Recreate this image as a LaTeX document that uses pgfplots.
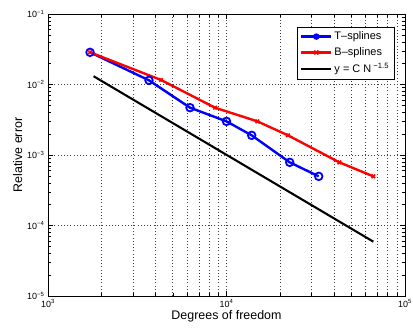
\documentclass[border=0pt]{standalone}
\usepackage{fontspec}
\setmainfont{Liberation Sans}
\usepackage{pgfplots}
\pgfplotsset{compat=1.18}
\begin{document}
\begin{tikzpicture}
\begin{axis}[
  name=ax,
  xmode=log, ymode=log,
  scale only axis, width=357bp, height=282bp,
  xmin=1e3, xmax=1e5, ymin=1e-5, ymax=1e-1,
  xtick={1e3,1e4,1e5},
  xticklabels={10\textsuperscript{3},10\textsuperscript{4},10\textsuperscript{5}},
  ytick={1e-5,1e-4,1e-3,1e-2,1e-1},
  yticklabels={10\textsuperscript{−5},10\textsuperscript{−4},10\textsuperscript{−3},10\textsuperscript{−2},10\textsuperscript{−1}},
  tick label style={font=\fontsize{9}{10}\selectfont},
  label style={font=\fontsize{12.5}{14}\selectfont},
  xlabel={Degrees of freedom},
  ylabel={Relative error},
  xlabel style={yshift=4bp},
  ylabel style={yshift=-2bp},
  tick align=inside,
  major tick length=5bp, minor tick length=3bp,
  xmajorgrids, xminorgrids, ymajorgrids,
  major grid style={dash pattern=on 0.8bp off 2.4bp, black!75, line width=0.6pt},
  minor grid style={dash pattern=on 0.8bp off 2.4bp, black!75, line width=0.6pt},
  axis line style={line width=0.6pt},
  every tick/.style={black, line width=0.5pt},
  legend style={font=\fontsize{11}{13}\selectfont, at={(0.97,0.955)}, anchor=north east,
    draw=black, row sep=2.5bp, inner xsep=3bp, inner ysep=3bp},
  legend cell align=left,
]
\addplot[blue, line width=2.4pt, mark=o, mark size=3.8bp, mark options={line width=1.8pt},
  legend image code/.code={\draw[blue, line width=2.4pt] (0bp,0bp) -- (30bp,0bp);
    \draw[blue, line width=1.8pt] (15bp,0bp) circle[radius=2.3bp];}] coordinates {
(1720,0.0286) (3680,0.01146) (6245,0.00469) (10000,0.0030) (13840,0.0019) (22600,0.000787) (32850,0.000498)};
\addlegendentry{T–splines}
\addplot[red, line width=2.4pt, mark=x, mark size=2.5bp, mark options={line width=1.6pt},
  legend image code/.code={\draw[red, line width=2.4pt] (0bp,0bp) -- (30bp,0bp);
    \draw[red, line width=1.6pt] (13bp,-2bp) -- (17bp,2bp) (13bp,2bp) -- (17bp,-2bp);}] coordinates {
(1720,0.0286) (4296,0.0116) (8621,0.00469) (14890,0.0030) (22110,0.0019) (42850,0.000787) (66460,0.000498)};
\addlegendentry{B–splines}
\addplot[black, line width=2.1pt,
  legend image code/.code={\draw[black, line width=2.1pt] (0bp,0bp) -- (30bp,0bp);}] coordinates {(1800,0.0131) (66460,5.9e-5)};
\addlegendentry{y = C N\textsuperscript{ −1.5}}
\end{axis}
\pgfresetboundingbox
\path[use as bounding box] (ax.south west) ++(-48bp,-34bp) rectangle ([shift={(8bp,14bp)}]ax.north east);
\end{tikzpicture}
\end{document}
